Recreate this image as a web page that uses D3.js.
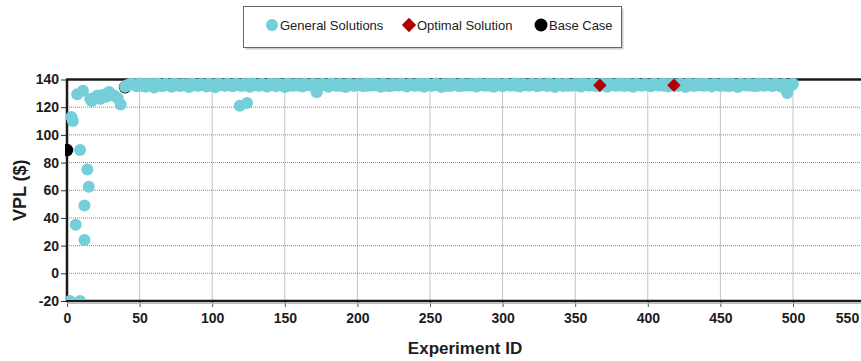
<!DOCTYPE html>
<html>
<head>
<meta charset="utf-8">
<script src="https://cdn.jsdelivr.net/npm/d3@7"></script>
<style>
  body { margin: 0; background: #fff; }
  svg { display: block; font-family: "Liberation Sans", Arial, sans-serif; }
</style>
</head>
<body>
<svg id="chart" width="861" height="361"></svg>
<script>
// general solutions, first experiments (scattered)
const earlyIds  = [2, 3, 4, 6, 7, 9, 9, 11, 12, 12, 14, 15, 16, 17, 19, 21, 23, 25, 27, 29, 31, 33, 35, 37, 119, 124];
const earlyVals = [-20, 113, 110, 35, 129.4, 89, -20, 131.8, 49, 24, 75, 62.6, 126, 124.5, 127, 128.5, 126, 129, 127.5, 131, 129, 128, 126.5, 122, 121, 123];

// general solutions, converged band: even experiments 40..500
const bandEvenStart = 40;
const bandEven = [
  134.8, 135.8, 137, 136.3, 135.2, 137.1, 135.9, 134.8, 136.9, 136.3, 134.3, 137.2, 135.8, 135.3, 136.9, 135.8, 134.8, 137, 136.3, 135.3,
  136.8, 135.8, 134.6, 137.1, 136, 135.4, 136.8, 136.2, 135, 136.9, 135.8, 134.4, 137.1, 136.3, 135.6, 136.8, 135.9, 135.1, 137, 136.4,
  135.3, 136.8, 136, 134.7, 137.1, 136.2, 135.5, 136.9, 135.8, 135, 137, 136.4, 135.2, 136.8, 136.1, 134.5, 137.1, 135.9, 135.4, 136.8,
  136.2, 134.9, 137, 136, 135.6, 136.8, 130.8, 135.3, 136.9, 136.1, 134.8, 137.1, 136.3, 135.4, 136.8, 135.9, 134.6, 137, 136.2, 135.5,
  136.8, 136, 135.1, 137.1, 136.3, 135.6, 136.9, 135.8, 134.7, 137, 136.4, 135.2, 136.8, 136.1, 135.7, 137.1, 135.9, 135, 136.8, 136.3,
  135.4, 137, 136.1, 134.8, 136.9, 136.2, 135.6, 137.1, 135.8, 134.5, 136.8, 136.4, 135.3, 137, 136, 135.1, 136.9, 136.2, 135.7, 136.8,
  135.9, 135, 137.1, 136.3, 135.5, 136.8, 136.1, 134.7, 137, 136.4, 135.2, 136.9, 135.8, 135.6, 137.1, 136.2, 134.9, 136.8, 136, 135.4,
  137, 136.3, 135.1, 136.8, 135.9, 135.7, 137.1, 136.2, 134.6, 136.9, 136.4, 135.3, 137, 136, 135.5, 136.8, 136.1, 135, 137.1, 136.3,
  135.6, 136.9, 135.8, 135.2, 137, 136.4, 134.8, 136.8, 136.1, 135.5, 137.1, 135.9, 135.3, 136.9, 136.3, 134.7, 137, 136, 135.4, 136.8,
  136.2, 135.1, 137.1, 135.8, 135.6, 136.9, 136.4, 134.9, 137, 136.1, 135.5, 136.8, 136, 134.6, 137.1, 136.3, 135.3, 136.9, 135.9, 135.7,
  137, 136.2, 135, 136.8, 136.4, 135.4, 137.1, 135.8, 135.2, 136.9, 136.1, 134.5, 137, 136.3, 135.6, 136.8, 136, 135.1, 137.1, 136.2,
  135.5, 136.9, 135.8, 135.3, 137, 136.4, 134.8, 136.8, 130.3, 136, 136.9
];
// odd experiments 41..499
const bandOddStart = 41;
const bandOdd = [
  135.6, 136.4, 136.8, 135.9, 136.5, 135.4, 136.7, 136, 135.5, 136.6, 135.9, 136.8, 135.3, 136.4, 136.1, 135.7, 136.9, 135.6, 136.3, 136,
  135.8, 136.5, 135.2, 136.7, 136, 135.6, 136.4, 135.9, 136.8, 135.5, 136.2, 135.8, 136.6, 136, 135.4, 136.7, 136.1, 135.7, 136.5, 135.9,
  136.3, 135.6, 136.8, 135.5, 136.2, 136, 135.7, 136.6, 135.3, 136.4, 135.9, 136.8, 135.6, 136.1, 135.8, 136.7, 135.5, 136.3, 136, 135.7,
  136.6, 135.4, 136.2, 135.9, 136.8, 135.6, 136.4, 135.8, 136.1, 135.5, 136.7, 136, 135.7, 136.5, 135.3, 136.3, 135.9, 136.8, 135.6, 136.2,
  135.8, 136.6, 136, 135.4, 136.7, 135.9, 136.3, 135.7, 136.8, 135.5, 136.1, 136, 135.6, 136.5, 135.8, 136.7, 135.4, 136.2, 136, 135.7,
  136.5, 135.6, 136.8, 135.9, 136.1, 135.5, 136.6, 136, 135.7, 136.4, 135.3, 136.7, 135.9, 136.2, 135.8, 136.6, 135.5, 136.3, 136, 135.6,
  136.8, 135.7, 136.2, 135.9, 136.5, 135.4, 136.7, 136, 135.8, 136.3, 135.6, 136.6, 135.9, 136.1, 135.5, 136.8, 135.7, 136.4, 136, 135.8,
  136.2, 135.6, 136.7, 135.9, 136.4, 135.3, 136.6, 136.1, 135.7, 136.5, 135.8, 136.8, 135.5, 136.2, 136, 135.6, 136.7, 135.9, 136.3, 135.7,
  136.6, 135.5, 136.1, 136, 135.8, 136.7, 135.4, 136.3, 135.9, 136.5, 135.6, 136.8, 136, 135.7, 136.2, 135.5, 136.6, 135.9, 136.4, 135.8,
  136.1, 135.6, 136.7, 135.9, 136.3, 135.5, 136.6, 136, 135.8, 136.4, 135.4, 136.8, 135.7, 136.2, 136, 135.6, 136.5, 135.9, 136.7, 135.5,
  136.3, 135.8, 136.6, 136, 135.7, 136.4, 135.5, 136.8, 135.9, 136.2, 135.6, 136.5, 136, 135.8, 136.7, 135.4, 136.3, 136.1, 135.7, 136.6,
  135.9, 136.2, 135.6, 136.7, 136, 135.5, 136.4, 135.8, 136.1, 135.9
];

const optimalIds  = [367, 418];
const optimalVals = [135.9, 135.9];

const baseIds  = [0, 40];
const baseVals = [89, 134.5];

const xTicks = [0, 50, 100, 150, 200, 250, 300, 350, 400, 450, 500, 550];
const yTicks = [-20, 0, 20, 40, 60, 80, 100, 120, 140];

const legendLabels = ['General Solutions', 'Optimal Solution', 'Base Case'];

const cyan = '#74CFD9', red = '#B00000', black = '#000';

const svg = d3.select('#chart');
const W = +svg.attr('width');

const plotLeft = 67, plotTop = 79.5, plotBottom = 301;
const x = d3.scaleLinear().domain([0, 550]).range([plotLeft, plotLeft + 550 * 1.452]);
const y = d3.scaleLinear().domain([-20, 140]).range([plotBottom, plotTop]);

const general = earlyIds.map((id, i) => ({id, v: earlyVals[i]}))
  .concat(bandEven.map((v, i) => ({id: bandEvenStart + i * 2, v})))
  .concat(bandOdd.map((v, i) => ({id: bandOddStart + i * 2, v})));
const optimal = optimalIds.map((id, i) => ({id, v: optimalVals[i]}));
const base = baseIds.map((id, i) => ({id, v: baseVals[i]}));

svg.append('defs').append('clipPath').attr('id', 'plotclip')
  .append('rect').attr('x', 65).attr('y', 60).attr('width', W).attr('height', plotBottom - 1 - 60);

// grid
const grid = svg.append('g').attr('class', 'grid');
grid.selectAll('line.h').data(yTicks.filter(d => d > -20 && d < 140)).enter()
  .append('line').attr('class', 'h')
  .attr('x1', plotLeft).attr('x2', W)
  .attr('y1', d => y(d)).attr('y2', d => y(d))
  .attr('stroke', '#8a8a8a').attr('stroke-width', 1).attr('stroke-dasharray', '1,1');
grid.selectAll('line.v').data(xTicks.filter(d => d > 0)).enter()
  .append('line').attr('class', 'v')
  .attr('x1', d => x(d)).attr('x2', d => x(d))
  .attr('y1', plotTop).attr('y2', plotBottom)
  .attr('stroke', '#8a8a8a').attr('stroke-width', 1).attr('stroke-dasharray', '1,1');

// axes
const fontColor = '#1c1c1c';
const yAxis = svg.append('g')
  .attr('transform', `translate(${plotLeft},0)`)
  .call(d3.axisLeft(y).tickValues(yTicks).tickFormat(d => String(d)).tickSize(6).tickPadding(2));
yAxis.select('.domain').remove();
yAxis.selectAll('line').attr('stroke', '#333');
yAxis.selectAll('text').attr('font-size', 14).attr('font-weight', 'bold')
  .attr('fill', fontColor).attr('font-family', '"Liberation Sans", Arial, sans-serif');

const xAxis = svg.append('g')
  .attr('transform', `translate(0,${plotBottom})`)
  .call(d3.axisBottom(x).tickValues(xTicks).tickFormat(d => String(d)).tickSize(6).tickPadding(6));
xAxis.select('.domain').remove();
xAxis.selectAll('line').attr('stroke', '#555');
xAxis.selectAll('text').attr('font-size', 14).attr('font-weight', 'bold')
  .attr('fill', fontColor).attr('font-family', '"Liberation Sans", Arial, sans-serif');
// last label pulled inside the window
xAxis.selectAll('.tick').filter(d => x(d) > W - 14)
  .select('text').attr('x', d => W - 14 - x(d));

// frame (markers are drawn over it)
const frame = svg.append('g').attr('stroke', '#1a1a1a').attr('stroke-width', 2.5).attr('fill', 'none');
frame.append('line').attr('x1', plotLeft).attr('x2', W).attr('y1', plotTop).attr('y2', plotTop);
frame.append('line').attr('x1', plotLeft).attr('x2', W).attr('y1', plotBottom).attr('y2', plotBottom);
frame.append('line').attr('x1', plotLeft).attr('x2', plotLeft).attr('y1', plotTop - 1).attr('y2', plotBottom + 1);
svg.append('line').attr('x1', plotLeft).attr('x2', W).attr('y1', plotBottom + 2.5).attr('y2', plotBottom + 2.5)
  .attr('stroke', '#bbb').attr('stroke-width', 1);

// marks
const marks = svg.append('g').attr('clip-path', 'url(#plotclip)');

marks.selectAll('circle.base').data(base).enter()
  .append('circle').attr('class', 'base')
  .attr('cx', d => x(d.id)).attr('cy', d => y(d.v)).attr('r', 6.3)
  .attr('fill', black);

marks.selectAll('circle.gen').data(general).enter()
  .append('circle').attr('class', 'gen')
  .attr('cx', d => x(d.id)).attr('cy', d => y(d.v)).attr('r', 6)
  .attr('fill', cyan);

const diamond = d3.symbol().type(d3.symbolDiamond2).size(115);
marks.selectAll('path.opt').data(optimal).enter()
  .append('path').attr('class', 'opt')
  .attr('d', diamond)
  .attr('transform', d => `translate(${x(d.id)},${y(d.v)})`)
  .attr('fill', red);

// axis titles
svg.append('text')
  .attr('x', (plotLeft + W) / 2 + 1).attr('y', 354)
  .attr('text-anchor', 'middle').attr('font-size', 17).attr('font-weight', 'bold')
  .attr('fill', fontColor).text('Experiment ID');
svg.append('text')
  .attr('transform', `translate(26,${(plotTop + plotBottom) / 2}) rotate(-90)`)
  .attr('text-anchor', 'middle').attr('font-size', 18).attr('font-weight', 'bold')
  .attr('fill', fontColor).text('VPL ($)');

// legend
const legend = svg.append('g');
legend.append('rect').attr('x', 245.5).attr('y', 8.5).attr('width', 378).attr('height', 41)
  .attr('fill', '#999').attr('opacity', 0.5);
legend.append('rect').attr('x', 243.5).attr('y', 6.5).attr('width', 378).attr('height', 41)
  .attr('fill', '#fff').attr('stroke', '#666').attr('stroke-width', 1);

const legendX = [272, 409, 541];
legend.append('circle').attr('cx', legendX[0]).attr('cy', 25).attr('r', 6).attr('fill', cyan);
legend.append('path').attr('d', d3.symbol().type(d3.symbolDiamond2).size(130))
  .attr('transform', `translate(${legendX[1]},25)`).attr('fill', red);
legend.append('circle').attr('cx', legendX[2]).attr('cy', 25).attr('r', 6.5).attr('fill', black);
legend.selectAll('text').data(legendLabels).enter()
  .append('text')
  .attr('x', (d, i) => legendX[i] + 8).attr('y', 30)
  .attr('font-size', 13).attr('fill', '#222')
  .text(d => d);
</script>
</body>
</html>
